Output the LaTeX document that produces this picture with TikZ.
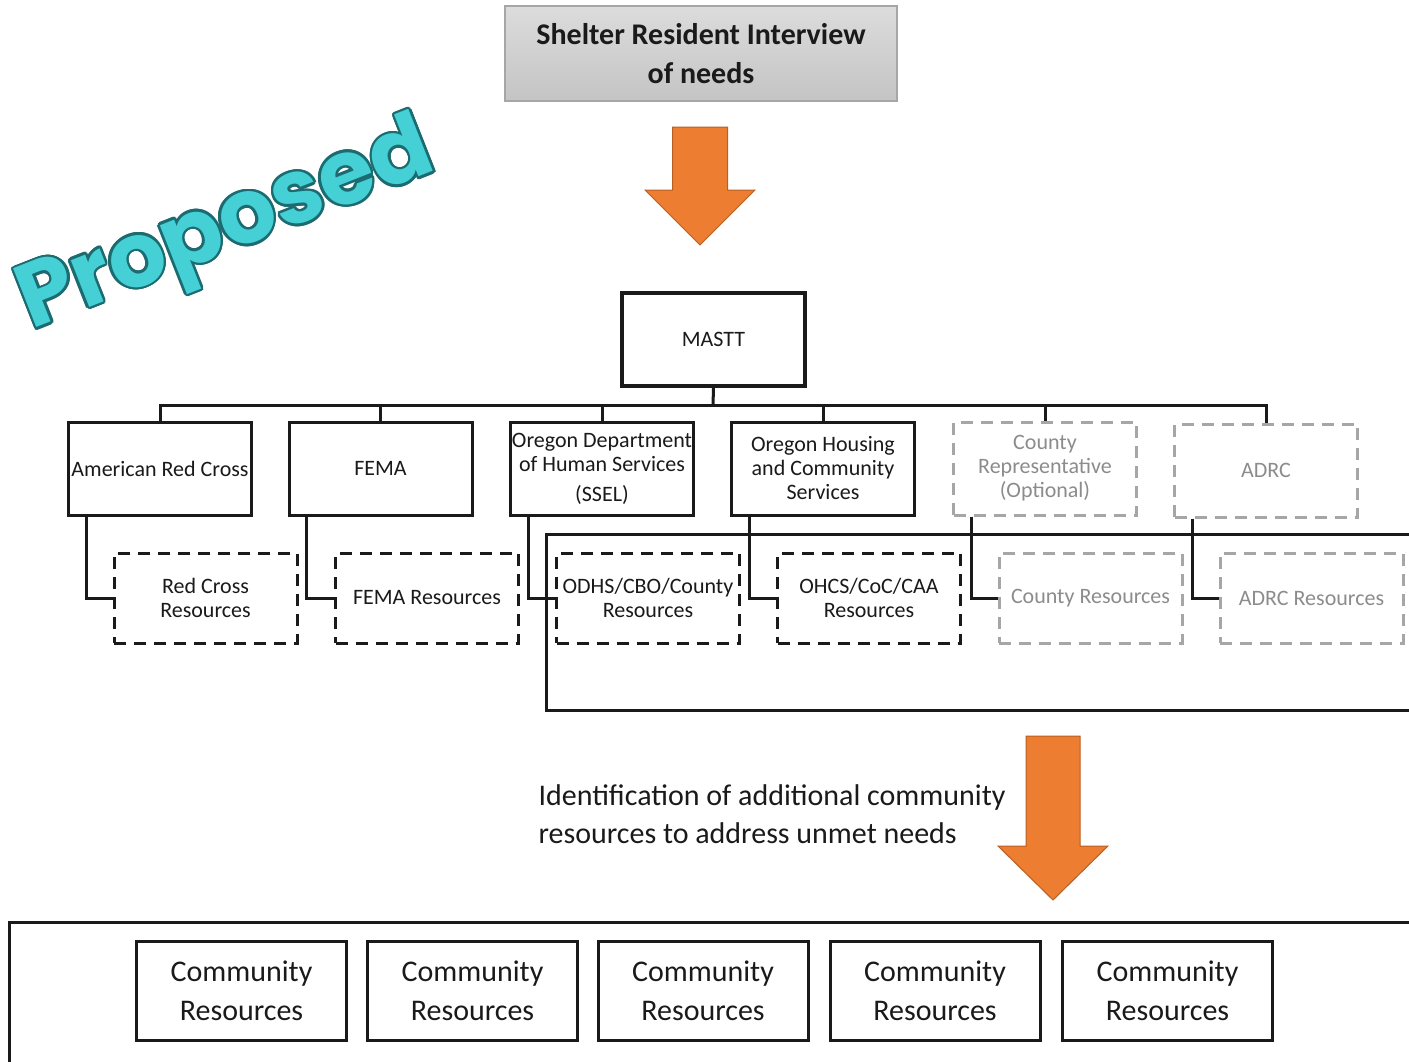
\documentclass[tikz,border=0pt]{standalone}
\usepackage{fontspec}
\setmainfont{Carlito}
\newfontfamily\stampfont{Poppins}
\usepackage{contour}
\usetikzlibrary{calc}
\definecolor{ink}{HTML}{1A1A1A}
\definecolor{dim}{HTML}{A6A6A6}
\definecolor{dimtext}{HTML}{8C8C8C}
\definecolor{boxtop}{HTML}{DCDCDC}
\definecolor{boxbot}{HTML}{C4C4C4}
\definecolor{boxedge}{HTML}{A6A6A6}
\definecolor{arrowfill}{HTML}{ED7D31}
\definecolor{arrowedge}{HTML}{B85F22}
\definecolor{stampfill}{HTML}{45D0D6}
\definecolor{stampedge}{HTML}{1C6B70}
\tikzset{
  org/.style={draw=ink, line width=3pt, fill=white, text=ink, align=center,
    font=\fontsize{22}{24}\selectfont, inner sep=0pt,
    minimum width=183pt, minimum height=93pt},
  orgopt/.style={org, draw=dim, text=dimtext, dash pattern=on 12pt off 8pt},
  res/.style={org, minimum height=90pt, dash pattern=on 12pt off 8pt},
  resopt/.style={res, draw=dim, text=dimtext},
  comm/.style={draw=ink, line width=3pt, text=ink, align=center, inner sep=0pt,
    font=\fontsize{30}{39}\selectfont, minimum width=210pt, minimum height=99pt},
  conn/.style={draw=ink, line width=3pt},
  frame/.style={draw=ink, line width=3pt},
  bigarrow/.style={fill=arrowfill, draw=arrowedge, line width=1pt},
  stamp/.style={rotate=21.5, text=stampfill, font=\stampfont\bfseries\fontsize{90}{90}\selectfont},
}

\begin{document}
\begin{tikzpicture}[x=1pt,y=-1pt]
  \clip (0,0) rectangle (1409,1061);

  % interview box and first arrow
  \node[draw=boxedge, line width=1.5pt, top color=boxtop, bottom color=boxbot,
        minimum width=392pt, minimum height=95pt, align=center, text=ink,
        font=\bfseries\fontsize{30}{39}\selectfont] (intv) at (701,53.5)
        {Shelter Resident Interview\\of needs};
  \draw[bigarrow] (672.5,127) -- (727.5,127) -- (727.5,190) -- (755,190)
        -- (700,245) -- (645,190) -- (672.5,190) -- cycle;

  % stamp
  \contourlength{2.5pt}
  \node[stamp] (stamp) at (228,231) {\contour{stampedge}{Proposed}};

  % MASTT and agencies
  \node[org, line width=4pt] (mastt) at (713.5,339.5) {MASTT};
  \coordinate (bus) at (713,405);

  \node[org] (arc)  at (160,468.5)    {American Red Cross};
  \node[org] (fema) at (380.5,468.5)  {FEMA};
  \node[org] (odhs) at (602,468.5)    {Oregon Department\\of Human Services\\[6pt](SSEL)};
  \node[org] (ohcs) at (823,468.5)    {Oregon Housing\\and Community\\Services};
  \node[orgopt] (cty)  at (1045,468.5) {County\\Representative\\(Optional)};
  \node[orgopt] (adrc) at (1266,470.5) {ADRC};

  \node[res] (arcres)  at (205.5,598) {Red Cross\\Resources};
  \node[res] (femares) at (427,598)   {FEMA Resources};
  \node[res] (odhsres) at (648,598)   {ODHS/CBO/County\\Resources};
  \node[res] (ohcsres) at (869,598)   {OHCS/CoC/CAA\\Resources};
  \node[resopt] (ctyres)  at (1090.5,598) {County Resources};
  \node[resopt] (adrcres) at (1311.5,598) {ADRC Resources};

  \draw[conn] (mastt.south) -- (bus);
  \foreach \n in {arc,fema,odhs,ohcs,cty,adrc}
    \draw[conn] (\n.north) |- (bus);
  \foreach \n in {arc,fema,odhs,ohcs,cty,adrc}
    \draw[conn] ($(\n.south west)+(19,0)$) |- (\n res.west);

  % frame round the partner resources
  \draw[frame] (1420,534) -- (546,534) -- (546,710) -- (1420,710);

  % second step
  \node[anchor=west, align=left, text=ink, font=\fontsize{30}{38}\selectfont]
        (note) at (535,814) {Identification of additional community\\resources to address unmet needs};
  \draw[bigarrow] (1026,736) -- (1080,736) -- (1080,846) -- (1108,846)
        -- (1053,900) -- (998,846) -- (1026,846) -- cycle;

  % community resources
  \draw[frame] (1420,922) -- (9,922) -- (9,1070);
  \foreach \i/\x in {1/241.5,2/472.5,3/703,4/935,5/1167.5}
    \node[comm] (cr\i) at (\x,990.5) {Community\\Resources};
\end{tikzpicture}
\end{document}
